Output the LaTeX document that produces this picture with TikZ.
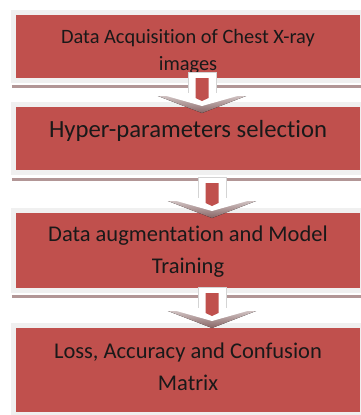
\documentclass[tikz,border=0pt]{standalone}
\usepackage{fontspec}
\setmainfont{Carlito}[Ligatures=NoCommon]
\usetikzlibrary{calc}

\definecolor{boxred}{HTML}{C0504D}
\definecolor{boxedge}{HTML}{F0F0F0}
\definecolor{barshade}{RGB}{178,150,150}
\definecolor{arrowedge}{HTML}{D4D4D4}
\definecolor{headshade}{RGB}{135,100,100}

\tikzset{
    stagebox/.style={rectangle, fill=boxred, draw=boxedge, line width=5bp,
        minimum width=349bp, inner sep=0pt, outer sep=0pt},
    stagetext/.style={align=center, text=black!90,
        font=\fontsize{22.5bp}{32bp}\selectfont},
    shadowbar/.style={draw=barshade, line width=3bp},
}

% block arrow: #1 top of the shaft, #2 tip of the head
\newcommand{\flowarrow}[2]{%
    \filldraw[fill=white, draw=arrowedge, line width=0.8bp] let \p1=(#1), \p2=(#2) in
        (\x2-14bp,\y1) rectangle (\x2+14bp,\y2+18bp);
    \fill[top color=headshade!40, bottom color=headshade] let \p2=(#2) in
        (\x2-44bp,\y2+17bp) -- (\x2+44bp,\y2+17bp) -- (\x2,\y2) -- cycle;
    \fill[white] let \p2=(#2) in
        (\x2-46bp,\y2+20bp) -- (\x2+46bp,\y2+20bp) -- (\x2,\y2+7bp) -- cycle;
    \fill[boxred] let \p1=(#1), \p2=(#2) in
        (\x2-6.5bp,\y1-6bp) -- (\x2+6.5bp,\y1-6bp) -- (\x2+6.5bp,\y2+15bp)
        -- (\x2,\y2+12bp) -- (\x2-6.5bp,\y2+15bp) -- cycle;
}

\begin{document}
\begin{tikzpicture}[x=1bp, y=-1bp]
    \useasboundingbox (0,0) rectangle (361,415);
    \clip (0,0) rectangle (361,415);

    % Draw the four stages
    \node[stagebox, minimum height=68bp] (acquire) at (188,46.5) {};
    \node[stagebox, minimum height=68bp] (hyper) at (188,138.5) {};
    \node[stagebox, minimum height=80bp] (train) at (188,250.5) {};
    \node[stagebox, minimum height=89bp] (metrics) at (188,370) {};

    % Shadows under the stages
    \draw[shadowbar] ($(acquire.south west)+(-1.5,6)$) -- ($(acquire.south east)+(5,6)$);
    \draw[shadowbar] ($(hyper.south west)+(-1.5,6.5)$) -- ($(hyper.south east)+(5,6.5)$);
    \draw[shadowbar] ($(train.south west)+(-1.5,5.5)$) -- ($(train.south east)+(5,5.5)$);

    % Add the labels of the stages
    \node[stagetext, font=\fontsize{20.4bp}{27bp}\selectfont] (acquirelbl) at (188,52)
        {Data Acquisition of Chest X-ray\\images};
    \node[stagetext, font=\fontsize{24.7bp}{32bp}\selectfont] (hyperlbl) at (188,131)
        {Hyper-parameters selection};
    \node[stagetext] (trainlbl) at (188,252) {Data augmentation and Model\\Training};
    \node[stagetext] (metricslbl) at (188,367) {Loss, Accuracy and Confusion\\Matrix};

    % Draw the arrows between the stages
    \flowarrow{$(acquire.south)+(14,-8.5)$}{$(hyper.north)+(14,8.5)$}
    \flowarrow{$(hyper.south)+(24,4.5)$}{$(train.north)+(24,7.5)$}
    \flowarrow{$(train.south)+(24,-3.5)$}{$(metrics.north)+(24,2.5)$}
\end{tikzpicture}
\end{document}
